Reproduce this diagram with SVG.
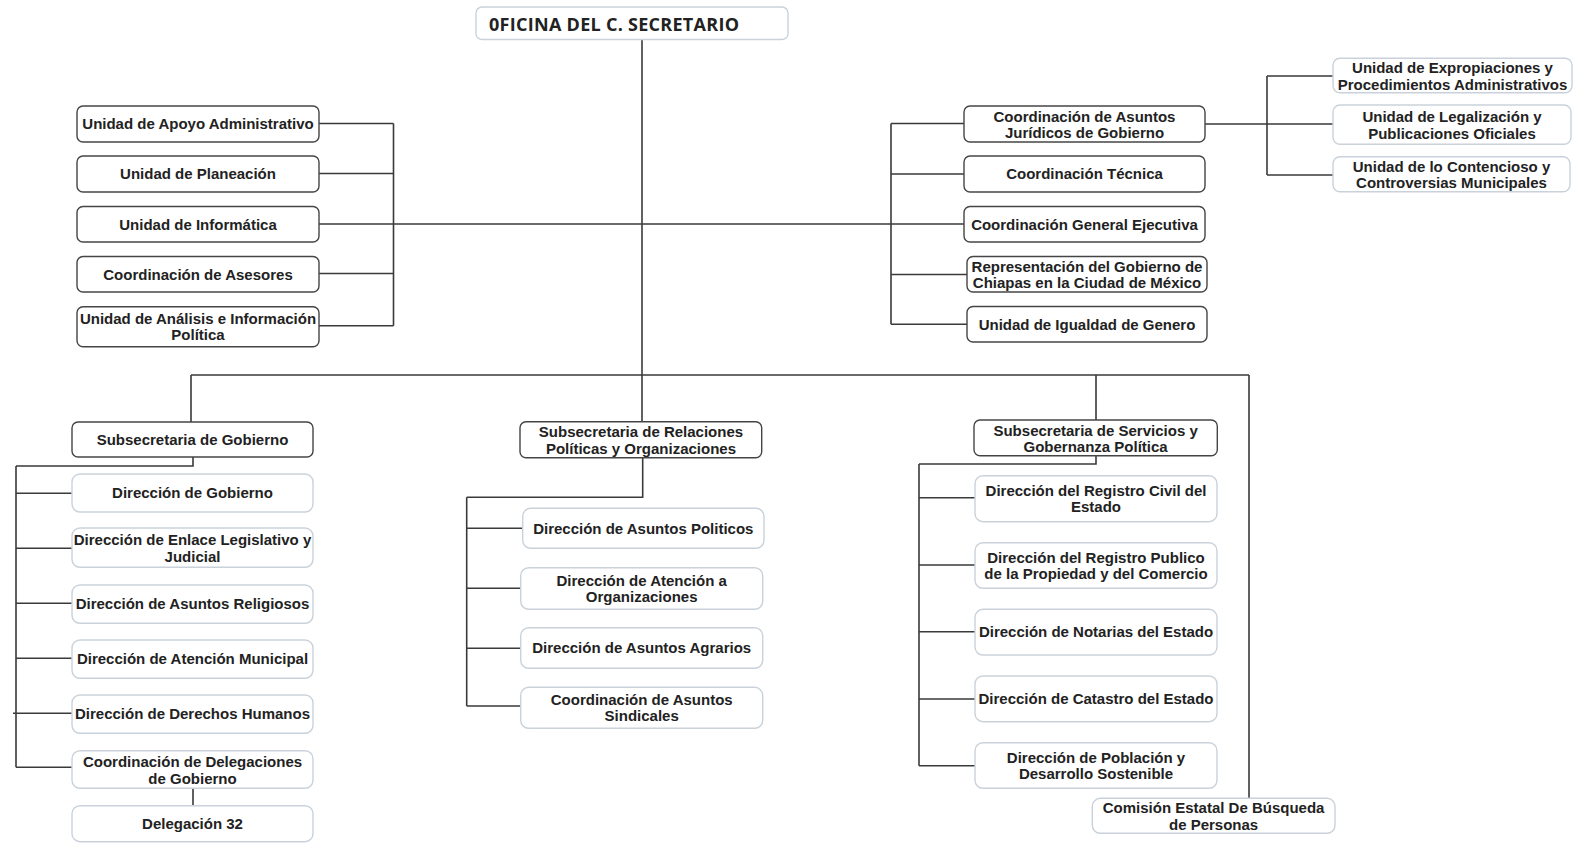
<svg xmlns="http://www.w3.org/2000/svg" width="1588" height="843" viewBox="0 0 1588 843">
<style>
.bg{fill:#ffffff}
.dk{fill:#ffffff;stroke:#454545;stroke-width:1.4}
.lt{fill:#ffffff;stroke:#c9d2da;stroke-width:1.4}
.t{font-family:"Liberation Sans",Arial,sans-serif;font-weight:bold;font-size:15px;fill:#222222;text-anchor:middle}
.ttl{font-family:"Open Sans","Liberation Sans",sans-serif;font-weight:bold;font-size:18px;fill:#222222}
.ln{fill:none;stroke:#3a3a3a;stroke-width:1.6}
</style>
<rect class="bg" x="0" y="0" width="1588" height="843"/>

<g id="connectors">
  <path class="ln" d="M642 39.5V421.7"/>
  <path class="ln" d="M319 224H964"/>
  <path class="ln" d="M393.5 123.5V325.7 M319 123.5H393.5 M319 173.5H393.5 M319 273.5H393.5 M319 325.7H393.5"/>
  <path class="ln" d="M891 123.5V324.3 M891 123.5H964 M891 174H964 M891 274.5H967 M891 324.3H967"/>
  <path class="ln" d="M1205 124H1333 M1267 76V175 M1267 76H1333 M1267 175H1333"/>
  <path class="ln" d="M191 375H1249 M191 375V422 M1096 375V420 M1249 375V798.3"/>
  <path class="ln" d="M193 457V466H16 M16 466V767.3 M16 493.3H72 M16 548.3H72 M16 603.3H72 M16 658.3H72 M13 713.3H72 M16 767.3H72 M193 788.3V805.7"/>
  <path class="ln" d="M642.7 457.7V497.3H466.7 M466.7 497.3V706 M466.7 528.3H522.7 M466.7 588.3H520.7 M466.7 648.3H520.7 M466.7 706H520.7"/>
  <path class="ln" d="M1096 455.7V464H919 M919 464V765.7 M919 497.7H975 M919 565H975 M919 631.7H975 M919 699H975 M919 765.7H975"/>
</g>

<g id="oficina">
  <rect class="lt" x="476" y="7" width="312" height="32.5" rx="6"/>
  <text class="ttl" x="489" y="30.5" textLength="250" lengthAdjust="spacing">0FICINA DEL C. SECRETARIO</text>
</g>

<g id="apoyo"><rect class="dk" x="77" y="106" width="242" height="36" rx="6"/><text class="t" x="198" y="129.3">Unidad de Apoyo Administrativo</text></g>
<g id="planeacion"><rect class="dk" x="77" y="156" width="242" height="36" rx="6"/><text class="t" x="198" y="179.3">Unidad de Planeación</text></g>
<g id="informatica"><rect class="dk" x="77" y="206.5" width="242" height="35.5" rx="6"/><text class="t" x="198" y="229.5">Unidad de Informática</text></g>
<g id="asesores"><rect class="dk" x="77" y="256.5" width="242" height="35.5" rx="6"/><text class="t" x="198" y="279.5">Coordinación de Asesores</text></g>
<g id="analisis"><rect class="dk" x="77" y="306.7" width="242" height="40" rx="6"/><text class="t" x="198" y="323.5">Unidad de Análisis e Información</text><text class="t" x="198" y="340">Política</text></g>

<g id="juridicos"><rect class="dk" x="964" y="106" width="241" height="36" rx="6"/><text class="t" x="1084.5" y="121.5">Coordinación de Asuntos</text><text class="t" x="1084.5" y="138">Jurídicos de Gobierno</text></g>
<g id="tecnica"><rect class="dk" x="964" y="156" width="241" height="36" rx="6"/><text class="t" x="1084.5" y="179.3">Coordinación Técnica</text></g>
<g id="general"><rect class="dk" x="964" y="206.5" width="241" height="35.5" rx="6"/><text class="t" x="1084.5" y="229.5">Coordinación General Ejecutiva</text></g>
<g id="representacion"><rect class="dk" x="967" y="256.5" width="240" height="35.5" rx="6"/><text class="t" x="1087" y="271.5">Representación del Gobierno de</text><text class="t" x="1087" y="288">Chiapas en la Ciudad de México</text></g>
<g id="igualdad"><rect class="dk" x="967" y="306.5" width="240" height="35.5" rx="6"/><text class="t" x="1087" y="329.5">Unidad de Igualdad de Genero</text></g>

<g id="expropiaciones"><rect class="lt" x="1333" y="58.3" width="239" height="34.4" rx="7"/><text class="t" x="1452.5" y="73">Unidad de Expropiaciones y</text><text class="t" x="1452.5" y="89.5">Procedimientos Administrativos</text></g>
<g id="legalizacion"><rect class="lt" x="1333" y="105" width="238" height="39.3" rx="7"/><text class="t" x="1452" y="122">Unidad de Legalización y</text><text class="t" x="1452" y="138.5">Publicaciones Oficiales</text></g>
<g id="contencioso"><rect class="lt" x="1333" y="156.7" width="237" height="35" rx="7"/><text class="t" x="1451.5" y="171.5">Unidad de lo Contencioso y</text><text class="t" x="1451.5" y="188">Controversias Municipales</text></g>

<g id="sub-gobierno"><rect class="dk" x="72" y="422" width="241" height="35" rx="6"/><text class="t" x="192.5" y="444.8">Subsecretaria de Gobierno</text></g>
<g id="dir-gobierno"><rect class="lt" x="72" y="474" width="241" height="38" rx="8"/><text class="t" x="192.5" y="498.3">Dirección de Gobierno</text></g>
<g id="dir-enlace"><rect class="lt" x="72" y="528" width="241" height="39.3" rx="8"/><text class="t" x="192.5" y="545">Dirección de Enlace Legislativo y</text><text class="t" x="192.5" y="561.5">Judicial</text></g>
<g id="dir-religiosos"><rect class="lt" x="72" y="585" width="241" height="38.3" rx="8"/><text class="t" x="192.5" y="609.3">Dirección de Asuntos Religiosos</text></g>
<g id="dir-municipal"><rect class="lt" x="72" y="640" width="241" height="38.3" rx="8"/><text class="t" x="192.5" y="664.3">Dirección de Atención Municipal</text></g>
<g id="dir-derechos"><rect class="lt" x="72" y="695" width="241" height="38.3" rx="8"/><text class="t" x="192.5" y="719.3">Dirección de Derechos Humanos</text></g>
<g id="coord-delegaciones"><rect class="lt" x="72" y="750.7" width="241" height="37.6" rx="8"/><text class="t" x="192.5" y="767">Coordinación de Delegaciones</text><text class="t" x="192.5" y="783.5">de Gobierno</text></g>
<g id="delegacion32"><rect class="lt" x="72" y="805.7" width="241" height="36" rx="8"/><text class="t" x="192.5" y="829">Delegación 32</text></g>

<g id="sub-relaciones"><rect class="dk" x="520" y="421.7" width="241.7" height="36" rx="6"/><text class="t" x="641" y="437">Subsecretaria de Relaciones</text><text class="t" x="641" y="453.5">Políticas y Organizaciones</text></g>
<g id="dir-politicos"><rect class="lt" x="522.7" y="508.3" width="241.3" height="40" rx="8"/><text class="t" x="643.3" y="533.6">Dirección de Asuntos Politicos</text></g>
<g id="dir-organizaciones"><rect class="lt" x="520.7" y="567.7" width="242" height="41.6" rx="8"/><text class="t" x="641.7" y="585.5">Dirección de Atención a</text><text class="t" x="641.7" y="602">Organizaciones</text></g>
<g id="dir-agrarios"><rect class="lt" x="520.7" y="627.7" width="242" height="40.6" rx="8"/><text class="t" x="641.7" y="653.3">Dirección de Asuntos Agrarios</text></g>
<g id="coord-sindicales"><rect class="lt" x="520.7" y="687.3" width="242" height="41" rx="8"/><text class="t" x="641.7" y="704.5">Coordinación de Asuntos</text><text class="t" x="641.7" y="721">Sindicales</text></g>

<g id="sub-servicios"><rect class="dk" x="974" y="420" width="243.3" height="35.7" rx="6"/><text class="t" x="1095.6" y="435.5">Subsecretaria de Servicios y</text><text class="t" x="1095.6" y="452">Gobernanza Política</text></g>
<g id="dir-civil"><rect class="lt" x="975" y="475.7" width="242" height="46" rx="8"/><text class="t" x="1096" y="495.5">Dirección del Registro Civil del</text><text class="t" x="1096" y="512">Estado</text></g>
<g id="dir-publico"><rect class="lt" x="975" y="542.7" width="242" height="45.6" rx="8"/><text class="t" x="1096" y="562.5">Dirección del Registro Publico</text><text class="t" x="1096" y="579">de la Propiedad y del Comercio</text></g>
<g id="dir-notarias"><rect class="lt" x="975" y="609.3" width="242" height="45.7" rx="8"/><text class="t" x="1096" y="637.3">Dirección de Notarias del Estado</text></g>
<g id="dir-catastro"><rect class="lt" x="975" y="676" width="242" height="45.7" rx="8"/><text class="t" x="1096" y="704">Dirección de Catastro del Estado</text></g>
<g id="dir-poblacion"><rect class="lt" x="975" y="742.7" width="242" height="45.6" rx="8"/><text class="t" x="1096" y="762.5">Dirección de Población y</text><text class="t" x="1096" y="779">Desarrollo Sostenible</text></g>
<g id="comision"><rect class="lt" x="1092.3" y="798.3" width="242.7" height="35" rx="8"/><text class="t" x="1213.6" y="813.3">Comisión Estatal De Búsqueda</text><text class="t" x="1213.6" y="830">de Personas</text></g>
</svg>
